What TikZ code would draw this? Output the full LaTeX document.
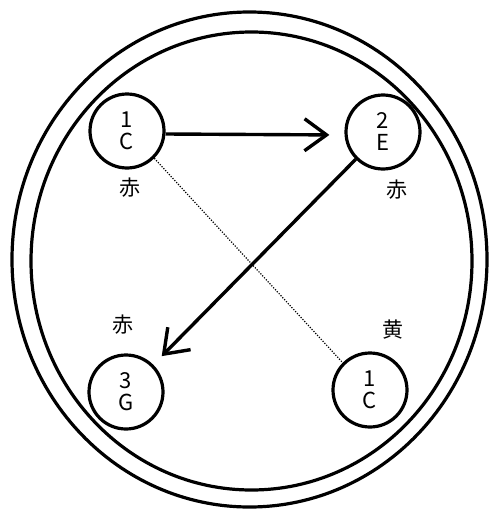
\documentclass[tikz,border=0pt]{standalone}
\usepackage{fontspec}
\setmainfont{Noto Sans CJK JP}
\usetikzlibrary{arrows.meta}
\begin{document}
\begin{tikzpicture}[x=1pt,y=-1pt,
  ring/.style={draw,line width=3.2pt},
  keynode/.style={circle,draw,line width=3.2pt,minimum size=74pt,inner sep=0pt,align=center,font=\fontsize{22}{26}\selectfont},
  colorlabel/.style={font=\fontsize{21}{22}\selectfont,inner sep=0pt},
  conn/.style={line width=3.4pt,-{Straight Barb[length=22pt,width=32pt,line width=3.4pt]}}
]
\useasboundingbox (0,0) rectangle (492,514);
\draw[ring] (249.5,259.5) ellipse [x radius=237.5,y radius=247.5];
\draw[ring] (251.5,261) ellipse [x radius=220.5,y radius=229];

\node[keynode] (c1) at (127,131) {1\\[-4pt]C};
\node[keynode] (e2) at (383,132) {2\\[-4pt]E};
\node[keynode] (g3) at (126,392) {3\\[-4pt]G};
\node[keynode] (c4) at (370,390) {1\\[-4pt]C};

\node[colorlabel] (l1) at (130,188) {赤};
\node[colorlabel] (l2) at (397,190) {赤};
\node[colorlabel] (l3) at (123,325) {赤};
\node[colorlabel] (l4) at (393,330) {黄};

\draw[conn,shorten >=15pt] ([yshift=-3pt]c1.east) -- ([yshift=-3pt]e2.west);
\draw[conn,shorten >=12pt] (e2.225) -- (g3.45);
\draw[line width=1.2pt,dash pattern=on 1.2pt off 1.5pt] (c1.-45) -- (c4.135);
\end{tikzpicture}
\end{document}
